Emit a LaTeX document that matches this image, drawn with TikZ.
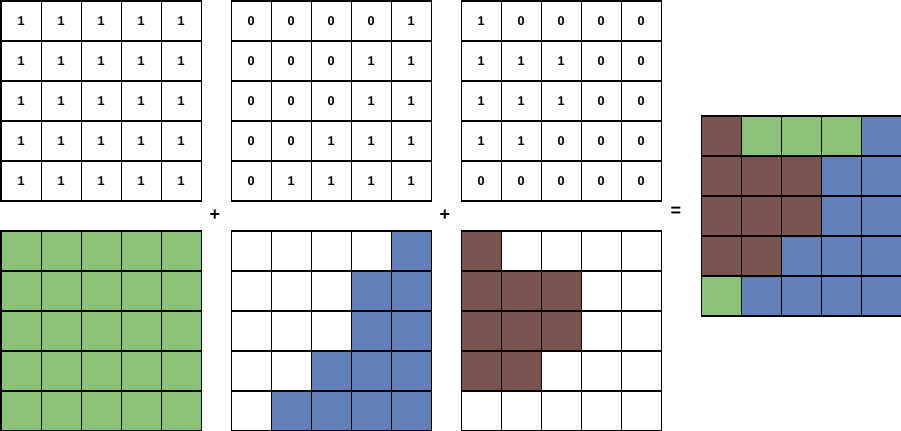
\documentclass[tikz,border=0pt]{standalone}
\usepackage{fontspec}
\setmainfont{Liberation Sans}
\definecolor{cgreen}{RGB}{139,194,122}
\definecolor{cblue}{RGB}{99,129,185}
\definecolor{cbrown}{RGB}{122,85,79}
\tikzset{
  cell/.style={draw=black, line width=0.9pt, minimum size=30pt, inner sep=0pt, anchor=north west, font=\bfseries\fontsize{9.5}{10}\selectfont},
  op/.style={font=\bfseries\fontsize{13.5}{14}\selectfont, inner sep=0pt},
}
\begin{document}
\begin{tikzpicture}[x=0.75pt,y=-0.75pt]
\useasboundingbox (0,0) rectangle (901,431);
% numeric grids
\def\numgrid#1#2#3#4{% name, x0, y0, list of rows
  \foreach \row [count=\r from 0] in {#4} {
    \foreach \v [count=\c from 0] in \row {
      \node[cell] (#1-\r-\c) at (#2+40*\c, #3+40*\r) {\v};
    }
  }
}
\def\colgrid#1#2#3#4{% name, x0, y0, rows of colours
  \foreach \row [count=\r from 0] in {#4} {
    \foreach \v [count=\c from 0] in \row {
      \node[cell, fill=\v] (#1-\r-\c) at (#2+40*\c, #3+40*\r) {};
    }
  }
}
\numgrid{a}{0.5}{0.5}{{1,1,1,1,1},{1,1,1,1,1},{1,1,1,1,1},{1,1,1,1,1},{1,1,1,1,1}}
\numgrid{b}{230.5}{0.5}{{0,0,0,0,1},{0,0,0,1,1},{0,0,0,1,1},{0,0,1,1,1},{0,1,1,1,1}}
\numgrid{c}{460.5}{0.5}{{1,0,0,0,0},{1,1,1,0,0},{1,1,1,0,0},{1,1,0,0,0},{0,0,0,0,0}}
\colgrid{d}{0.5}{230.5}{{cgreen,cgreen,cgreen,cgreen,cgreen},{cgreen,cgreen,cgreen,cgreen,cgreen},{cgreen,cgreen,cgreen,cgreen,cgreen},{cgreen,cgreen,cgreen,cgreen,cgreen},{cgreen,cgreen,cgreen,cgreen,cgreen}}
\colgrid{e}{230.5}{230.5}{{white,white,white,white,cblue},{white,white,white,cblue,cblue},{white,white,white,cblue,cblue},{white,white,cblue,cblue,cblue},{white,cblue,cblue,cblue,cblue}}
\colgrid{f}{460.5}{230.5}{{cbrown,white,white,white,white},{cbrown,cbrown,cbrown,white,white},{cbrown,cbrown,cbrown,white,white},{cbrown,cbrown,white,white,white},{white,white,white,white,white}}
\colgrid{g}{700.5}{115.5}{{cbrown,cgreen,cgreen,cgreen,cblue},{cbrown,cbrown,cbrown,cblue,cblue},{cbrown,cbrown,cbrown,cblue,cblue},{cbrown,cbrown,cblue,cblue,cblue},{cgreen,cblue,cblue,cblue,cblue}}
\node[op] (plus1) at (215,215) {+};
\node[op] (plus2) at (445,215) {+};
\node[op] (eq) at (676,212) {=};
\end{tikzpicture}
\end{document}
